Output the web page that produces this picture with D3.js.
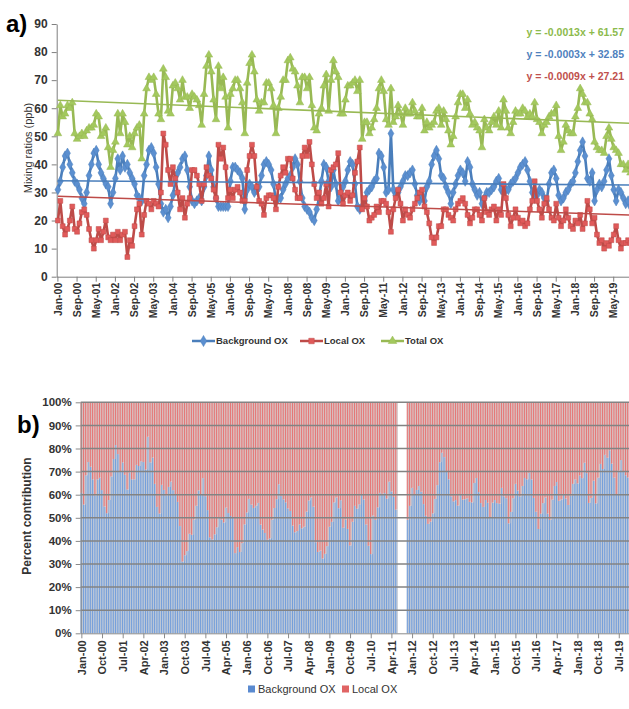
<!DOCTYPE html>
<html>
<head>
<meta charset="utf-8">
<script src="https://cdnjs.cloudflare.com/ajax/libs/d3/7.8.5/d3.min.js"></script>
<style>
  body { margin: 0; background: #fff; }
  svg { display: block; font-family: 'Liberation Sans', Arial, sans-serif; }
</style>
</head>
<body>
<script>
// category labels
var monthNames = ['Jan','Feb','Mar','Apr','May','Jun','Jul','Aug','Sep','Oct','Nov','Dec'];
var years = ['00','01','02','03','04','05','06','07','08','09','10','11','12','13','14','15','16','17','18','19'];

// monthly mixing ratios (ppb), Jan-00 .. Dec-19
var background = [
  31,34,39,43,44,40,37,34,33,31,28,26, 30,36,40,44,45,40,37,35,33,32,26,30,
  35,42,38,43,39,40,37,35,33,29,28,27, 36,40,45,46,44,39,33,26,23,24,21,25,
  29,34,37,39,42,43,38,32,27,26,27,28, 27,32,36,43,38,32,28,25,25,25,25,25,
  34,39,39,38,37,35,24,31,33,32,30,31, 32,36,40,41,40,38,33,27,28,28,31,33,
  35,36,39,42,40,34,28,25,24,23,21,20, 24,28,34,40,39,34,32,38,33,27,28,32,
  34,38,41,40,33,25,24,25,27,30,31,32, 34,35,44,43,39,30,31,51,31,29,30,32,
  34,36,36,37,38,33,29,27,29,27,32,34, 40,43,45,42,36,35,32,30,26,30,33,36,
  38,37,34,41,39,33,31,29,30,26,28,30, 30,31,32,34,35,31,30,31,31,33,34,35,
  37,39,40,41,38,34,30,28,29,31,30,28, 27,33,37,38,35,29,27,28,30,31,33,34,
  37,41,45,48,43,35,34,37,27,31,33,32, 34,38,42,36,31,27,31,30,28,26,27,25
];
var local = [
  20,27,18,15,17,20,25,17,16,19,23,24, 22,17,13,10,13,17,13,16,20,14,13,15,
  13,16,13,15,16,7,13,11,18,24,26,15,  22,27,26,24,27,26,25,30,51,47,38,33,
  39,35,30,24,28,21,26,28,38,38,36,33, 27,33,39,36,35,31,28,47,42,46,39,28,
  31,28,31,32,30,27,27,38,43,47,43,32, 27,26,22,28,29,29,28,24,32,36,39,37,
  42,42,35,31,28,28,43,46,43,48,40,33, 28,30,26,28,33,25,38,39,40,44,30,26,
  29,30,27,29,37,41,46,24,28,25,20,21, 22,25,23,27,27,26,23,16,24,28,31,26,
  20,24,22,21,24,26,28,30,31,25,23,19, 14,12,14,18,18,24,24,22,21,20,24,26,
  27,28,26,22,19,21,24,24,22,20,28,23, 22,24,25,20,24,22,33,28,22,18,21,24,
  21,19,20,18,19,24,27,34,27,24,21,26, 28,24,21,20,26,21,18,20,24,21,18,17,
  20,19,22,17,19,27,24,19,21,15,12,13, 10,12,11,13,15,18,13,10,12,12,13,12
];
var total = [
  51,61,57,58,61,60,62,51,49,50,51,50, 52,53,53,54,58,57,50,51,53,46,39,45,
  48,58,51,58,55,47,50,46,51,53,54,42, 58,67,71,70,71,65,58,56,74,71,59,58,
  68,69,67,63,70,64,64,60,65,64,63,61, 54,65,75,79,73,63,56,75,67,71,64,53,
  65,67,70,70,67,62,51,69,76,79,73,63, 59,62,62,69,69,67,61,51,60,64,70,70,
  77,78,74,73,68,62,71,71,67,71,61,53, 52,58,60,68,72,59,70,77,73,71,58,58,
  63,68,68,69,70,66,70,49,55,55,51,53, 56,60,67,70,66,56,54,67,55,57,61,58,
  54,60,58,58,62,59,57,57,60,52,55,53, 54,55,59,60,54,59,56,52,47,50,57,62,
  65,65,60,63,58,54,55,53,52,46,56,53, 52,55,57,54,59,53,63,59,53,51,55,59,
  58,58,60,59,57,58,57,62,56,55,51,54, 55,57,58,58,61,50,45,48,54,52,51,51,
  57,60,67,65,62,62,58,56,48,46,45,45, 44,50,53,49,46,45,44,40,40,38,40,37
];
// months with no percent bar in panel b
var gapMonths = ['Jul-11','Aug-11','Sep-11','Oct-11'];
var trendLabels = ['y = -0.0013x + 61.57', 'y = -0.0003x + 32.85', 'y = -0.0009x + 27.21'];

var months = [];
years.forEach(function(y) {
  monthNames.forEach(function(m) { months.push(m + '-' + y); });
});

var W = 629, H = 709;
var svg = d3.select('body').append('svg')
    .attr('width', W)
    .attr('height', H);

var defs = svg.append('defs');
function grad(id, stops) {
  var g = defs.append('linearGradient').attr('id', id)
      .attr('x1', 0).attr('x2', 1).attr('y1', 0).attr('y2', 0);
  stops.forEach(function(s) {
    g.append('stop').attr('offset', s[0]).attr('stop-color', s[1]);
  });
}
grad('gBlue', [[0, '#a7bfe0'], [1, '#c6cbd3']]);
grad('gRed', [[0, '#e8abab'], [1, '#d0c8c8']]);

var series = [
  {name: 'Background OX', values: background, line: '#4a7ebb', fill: '#5b8fd0', symbol: d3.symbolDiamond, size: 30},
  {name: 'Local OX', values: local, line: '#be4b48', fill: '#e05a5a', symbol: d3.symbolSquare, size: 24},
  {name: 'Total OX', values: total, line: '#98b954', fill: '#a3c95e', symbol: d3.symbolTriangle, size: 26}
];

// ---------- panel a ----------
var xA = d3.scaleBand().domain(months).range([56.7, 631.7]);
var yA = d3.scaleLinear().domain([0, 90]).range([276.7, 24]);
var cx = function(d, i) { return xA(months[i]) + xA.bandwidth() / 2; };

var gA = svg.append('g');

gA.append('g')
    .attr('transform', 'translate(56.7,0)')
    .call(d3.axisLeft(yA).tickValues(d3.range(0, 91, 10)).tickSize(5).tickSizeOuter(0).tickPadding(4))
    .call(function(g) {
      g.selectAll('path, line').attr('stroke', '#7f7f7f');
      g.selectAll('text').style('font-size', '12px').style('font-weight', 'bold').attr('fill', '#333');
    });

gA.append('g')
    .attr('transform', 'translate(0,276.7)')
    .call(d3.axisBottom(xA).tickValues(months.filter(function(d, i) { return i % 8 == 0; }))
      .tickSize(5).tickSizeOuter(0))
    .call(function(g) {
      g.selectAll('path, line').attr('stroke', '#7f7f7f');
      g.selectAll('text')
        .attr('transform', 'rotate(-90)')
        .attr('text-anchor', 'end')
        .attr('x', -6).attr('y', 0).attr('dy', '.35em')
        .style('font-size', '10.5px').style('font-weight', 'bold').attr('fill', '#333');
    });

gA.append('text')
    .attr('transform', 'translate(32,148) rotate(-90)')
    .attr('text-anchor', 'middle')
    .style('font-size', '11px')
    .attr('fill', '#333')
    .text('Mixing ratios (ppb)');

var lineA = d3.line().x(cx).y(function(d) { return yA(d); });

series.forEach(function(s) {
  gA.append('path')
      .datum(s.values)
      .attr('fill', 'none')
      .attr('stroke', s.line)
      .attr('stroke-width', 2.6)
      .attr('stroke-linejoin', 'round')
      .attr('d', lineA);
  gA.append('g').selectAll('path')
      .data(s.values)
    .enter().append('path')
      .attr('transform', function(d, i) { return 'translate(' + cx(d, i) + ',' + yA(d) + ')'; })
      .attr('d', d3.symbol().type(s.symbol).size(s.size))
      .attr('fill', s.fill)
      .attr('stroke', s.line)
      .attr('stroke-width', 0.5);
});

// least squares trend over month index
function linReg(vals) {
  var xs = d3.range(vals.length);
  var mx = d3.mean(xs), my = d3.mean(vals);
  var b = d3.sum(xs, function(x, i) { return (x - mx) * (vals[i] - my); }) /
          d3.sum(xs, function(x) { return (x - mx) * (x - mx); });
  return [my - b * mx, b];
}

series.forEach(function(s) {
  var r = linReg(s.values), n = s.values.length;
  gA.append('line')
      .attr('x1', cx(0, 0)).attr('y1', yA(r[0]))
      .attr('x2', cx(0, n - 1)).attr('y2', yA(r[0] + r[1] * (n - 1)))
      .attr('stroke', s.line)
      .attr('stroke-width', 1.6);
});

var eqColors = ['#8cba4c', '#4f81bd', '#c0504d'];
trendLabels.forEach(function(t, j) {
  gA.append('text')
      .attr('x', 624).attr('y', 36 + j * 22)
      .attr('text-anchor', 'end')
      .style('font-size', '10.5px').style('font-weight', 'bold')
      .attr('fill', eqColors[j])
      .text(t);
});

gA.append('text')
    .attr('x', 6).attr('y', 32)
    .style('font-size', '24px').style('font-weight', 'bold')
    .text('a)');

// legend a
var legA = gA.append('g').attr('transform', 'translate(0,341)');
var legAx = [192, 300, 381];
series.forEach(function(s, i) {
  var g = legA.append('g').attr('transform', 'translate(' + legAx[i] + ',0)');
  g.append('line').attr('x1', 0).attr('x2', 23).attr('stroke', s.line).attr('stroke-width', 2.5);
  g.append('path').attr('transform', 'translate(11.5,0)')
      .attr('d', d3.symbol().type(s.symbol).size(s.size + 6))
      .attr('fill', s.fill).attr('stroke', s.line).attr('stroke-width', 0.5);
  g.append('text').attr('x', 24).attr('dy', '.35em')
      .style('font-size', '9.5px').style('font-weight', 'bold').attr('fill', '#333')
      .text(s.name);
});

// ---------- panel b ----------
var rows = months.map(function(m, i) { return {month: m, bg: background[i], local: local[i]}; })
    .filter(function(d) { return gapMonths.indexOf(d.month) < 0; });
var stacked = d3.stack().keys(['bg', 'local']).offset(d3.stackOffsetExpand)(rows);

var xB = d3.scaleBand().domain(months).range([80.7, 631.9]).padding(0);
var yB = d3.scaleLinear().domain([0, 1]).range([633.3, 402.3]);

var gB = svg.append('g');
var fills = ['url(#gBlue)', 'url(#gRed)'];
var edges = ['#6393d8', '#e46464'];

var layer = gB.selectAll('.layer')
    .data(stacked)
  .enter().append('g')
    .attr('class', 'layer');

layer.selectAll('rect.bar')
    .data(function(d, i) { return d.map(function(p) { return {p: p, k: i}; }); })
  .enter().append('rect')
    .attr('class', 'bar')
    .attr('x', function(d) { return xB(d.p.data.month); })
    .attr('width', xB.bandwidth() + 0.2)
    .attr('y', function(d) { return yB(d.p[1]); })
    .attr('height', function(d) { return yB(d.p[0]) - yB(d.p[1]); })
    .attr('fill', function(d) { return fills[d.k]; });

layer.selectAll('rect.edge')
    .data(function(d, i) { return d.map(function(p) { return {p: p, k: i}; }); })
  .enter().append('rect')
    .attr('class', 'edge')
    .attr('x', function(d) { return xB(d.p.data.month); })
    .attr('width', 0.75)
    .attr('y', function(d) { return yB(d.p[1]); })
    .attr('height', function(d) { return yB(d.p[0]) - yB(d.p[1]); })
    .attr('fill', function(d) { return edges[d.k]; });

gB.append('g').selectAll('line')
    .data(d3.range(0.1, 1.01, 0.1))
  .enter().append('line')
    .attr('x1', 80.7).attr('x2', 632)
    .attr('y1', function(d) { return yB(d); })
    .attr('y2', function(d) { return yB(d); })
    .attr('stroke', '#838383')
    .attr('stroke-width', 1.5);

gB.append('g')
    .attr('transform', 'translate(80.7,0)')
    .call(d3.axisLeft(yB).tickValues(d3.range(0, 1.01, 0.1)).tickFormat(d3.format('.0%'))
      .tickSize(5).tickSizeOuter(0).tickPadding(4))
    .call(function(g) {
      g.selectAll('path, line').attr('stroke', '#8a8a8a');
      g.selectAll('text').style('font-size', '11.5px').style('font-weight', 'bold').attr('fill', '#333');
    });

gB.append('g')
    .attr('transform', 'translate(0,633.3)')
    .call(d3.axisBottom(xB).tickValues(months.filter(function(d, i) { return i % 9 == 0; }))
      .tickSize(5).tickSizeOuter(0))
    .call(function(g) {
      g.selectAll('path, line').attr('stroke', '#8a8a8a');
      g.selectAll('text')
        .attr('transform', 'rotate(-90)')
        .attr('text-anchor', 'end')
        .attr('x', -7).attr('y', 0).attr('dy', '.35em')
        .style('font-size', '11px').style('font-weight', 'bold').attr('fill', '#333');
    });

gB.append('text')
    .attr('transform', 'translate(31,516) rotate(-90)')
    .attr('text-anchor', 'middle')
    .style('font-size', '12px').style('font-weight', 'bold')
    .attr('fill', '#333')
    .text('Percent contribution');

gB.append('text')
    .attr('x', 17).attr('y', 433)
    .style('font-size', '24px').style('font-weight', 'bold')
    .text('b)');

// legend b
var legB = gB.append('g').attr('transform', 'translate(0,689)');
var legBx = [248, 342];
var legBc = ['#5a8ad0', '#e06464'];
['Background OX', 'Local OX'].forEach(function(name, i) {
  var g = legB.append('g').attr('transform', 'translate(' + legBx[i] + ',0)');
  g.append('rect').attr('x', 0).attr('y', -3.5).attr('width', 7).attr('height', 7).attr('fill', legBc[i]);
  g.append('text').attr('x', 10).attr('dy', '.35em')
      .style('font-size', '11px').attr('fill', '#333')
      .text(name);
});
</script>
</body>
</html>
